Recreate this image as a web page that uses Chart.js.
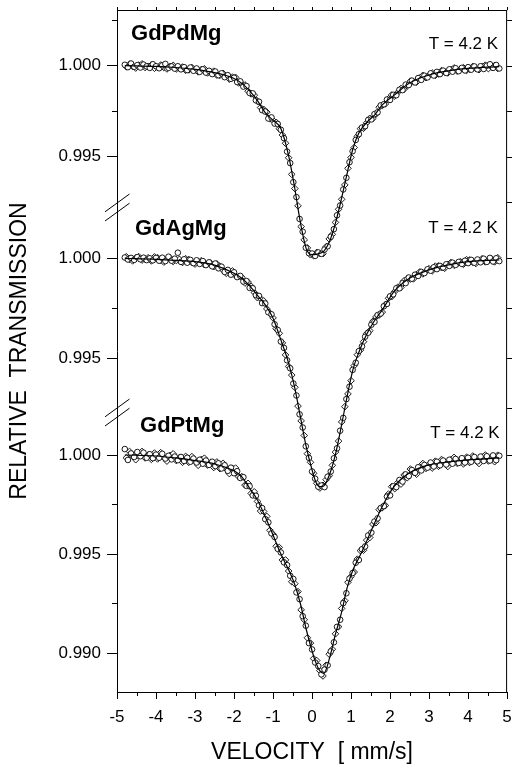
<!DOCTYPE html>
<html><head><meta charset="utf-8">
<script src="https://cdn.jsdelivr.net/npm/chart.js@4.4.1/dist/chart.umd.min.js"></script>
<style>html,body{margin:0;padding:0;background:#fff;}canvas{display:block;}</style>
</head><body>
<canvas id="c" width="512" height="767"></canvas>
<script>
// ---------- data ----------
// velocity channels of the two folded spectrum halves (circles / diamonds)
const velocity = [
-4.80,-4.72,-4.64,-4.56,-4.48,-4.40,-4.32,-4.24,-4.16,-4.08,
-4.00,-3.92,-3.84,-3.76,-3.68,-3.60,-3.52,-3.44,-3.36,-3.28,
-3.20,-3.12,-3.04,-2.96,-2.88,-2.80,-2.72,-2.64,-2.56,-2.48,
-2.40,-2.32,-2.24,-2.16,-2.08,-2.00,-1.92,-1.84,-1.76,-1.68,
-1.60,-1.52,-1.44,-1.36,-1.28,-1.20,-1.12,-1.04,-0.96,-0.88,
-0.80,-0.72,-0.64,-0.56,-0.48,-0.40,-0.32,-0.24,-0.16,-0.08,
0.00,0.08,0.16,0.24,0.32,0.40,0.48,0.56,0.64,0.72,
0.80,0.88,0.96,1.04,1.12,1.20,1.28,1.36,1.44,1.52,
1.60,1.68,1.76,1.84,1.92,2.00,2.08,2.16,2.24,2.32,
2.40,2.48,2.56,2.64,2.72,2.80,2.88,2.96,3.04,3.12,
3.20,3.28,3.36,3.44,3.52,3.60,3.68,3.76,3.84,3.92,
4.00,4.08,4.16,4.24,4.32,4.40,4.48,4.56,4.64,4.72,
4.80];
const velocity2 = [
-4.76,-4.68,-4.60,-4.52,-4.44,-4.36,-4.28,-4.20,-4.12,-4.04,
-3.96,-3.88,-3.80,-3.72,-3.64,-3.56,-3.48,-3.40,-3.32,-3.24,
-3.16,-3.08,-3.00,-2.92,-2.84,-2.76,-2.68,-2.60,-2.52,-2.44,
-2.36,-2.28,-2.20,-2.12,-2.04,-1.96,-1.88,-1.80,-1.72,-1.64,
-1.56,-1.48,-1.40,-1.32,-1.24,-1.16,-1.08,-1.00,-0.92,-0.84,
-0.76,-0.68,-0.60,-0.52,-0.44,-0.36,-0.28,-0.20,-0.12,-0.04,
0.04,0.12,0.20,0.28,0.36,0.44,0.52,0.60,0.68,0.76,
0.84,0.92,1.00,1.08,1.16,1.24,1.32,1.40,1.48,1.56,
1.64,1.72,1.80,1.88,1.96,2.04,2.12,2.20,2.28,2.36,
2.44,2.52,2.60,2.68,2.76,2.84,2.92,3.00,3.08,3.16,
3.24,3.32,3.40,3.48,3.56,3.64,3.72,3.80,3.88,3.96,
4.04,4.12,4.20,4.28,4.36,4.44,4.52,4.60,4.68,4.76];

const gdPdMg = [
1.00005,0.99992,1.00012,0.99994,1.00003,0.99990,1.00006,0.99996,0.99988,1.00008,
0.99997,0.99986,1.00002,1.00010,0.99988,0.99996,0.99984,0.99997,0.99980,0.99992,
0.99976,0.99990,0.99972,0.99985,0.99966,0.99980,0.99962,0.99972,0.99954,0.99968,
0.99948,0.99958,0.99937,0.99948,0.99928,0.99934,0.99910,0.99914,0.99885,0.99888,
0.99850,0.99848,0.99810,0.99802,0.99756,0.99748,0.99710,0.99716,0.99682,0.99680,
0.99648,0.99602,0.99528,0.99465,0.99360,0.99278,0.99158,0.99088,0.99000,0.98970,
0.98968,0.98955,0.98974,0.98966,0.98990,0.99008,0.99060,0.99102,0.99178,0.99232,
0.99320,0.99384,0.99470,0.99530,0.99592,0.99624,0.99660,0.99668,0.99702,0.99705,
0.99734,0.99744,0.99782,0.99788,0.99814,0.99812,0.99840,0.99838,0.99868,0.99866,
0.99896,0.99894,0.99918,0.99908,0.99932,0.99922,0.99945,0.99936,0.99958,0.99946,
0.99966,0.99954,0.99973,0.99960,0.99980,0.99967,0.99986,0.99970,0.99988,0.99974,
0.99992,0.99978,0.99996,0.99980,0.99997,0.99982,1.00000,1.00008,0.99988,1.00004,
0.99985];
const gdPdMg2 = [
0.99994,1.00008,0.99996,0.99987,1.00003,1.00010,0.99990,0.99997,1.00004,0.99986,
0.99990,1.00004,0.99990,0.99982,0.99996,1.00002,0.99982,0.99988,0.99993,0.99975,
0.99977,0.99990,0.99977,0.99966,0.99979,0.99983,0.99960,0.99965,0.99970,0.99948,
0.99947,0.99958,0.99940,0.99926,0.99937,0.99936,0.99905,0.99901,0.99894,0.99860,
0.99845,0.99838,0.99804,0.99770,0.99760,0.99745,0.99708,0.99700,0.99689,0.99654,
0.99619,0.99574,0.99494,0.99403,0.99325,0.99230,0.99116,0.99043,0.98999,0.98961,
0.98956,0.98974,0.98967,0.98967,0.99005,0.99048,0.99073,0.99139,0.99211,0.99266,
0.99345,0.99436,0.99496,0.99550,0.99612,0.99654,0.99656,0.99686,0.99711,0.99710,
0.99734,0.99772,0.99781,0.99790,0.99818,0.99839,0.99833,0.99854,0.99875,0.99871,
0.99889,0.99915,0.99911,0.99910,0.99933,0.99947,0.99934,0.99948,0.99960,0.99947,
0.99954,0.99973,0.99965,0.99960,0.99979,0.99988,0.99970,0.99980,0.99989,0.99974,
0.99980,0.99996,0.99985,0.99978,0.99995,1.00003,0.99984,0.99993,1.00001,0.99985];

const gdAgMg = [
1.00004,0.99994,1.00002,0.99992,1.00006,0.99995,1.00003,0.99991,1.00000,0.99990,
1.00002,0.99988,1.00003,0.99986,1.00008,0.99988,0.99998,1.00028,0.99982,0.99995,
0.99978,0.99992,0.99976,0.99990,0.99972,0.99986,0.99966,0.99980,0.99960,0.99974,
0.99950,0.99958,0.99932,0.99942,0.99918,0.99930,0.99906,0.99912,0.99884,0.99886,
0.99852,0.99850,0.99816,0.99812,0.99776,0.99774,0.99730,0.99720,0.99670,0.99642,
0.99584,0.99552,0.99490,0.99450,0.99374,0.99314,0.99220,0.99154,0.99060,0.99002,
0.98934,0.98898,0.98858,0.98864,0.98856,0.98908,0.98934,0.99000,0.99050,0.99138,
0.99202,0.99296,0.99358,0.99442,0.99478,0.99536,0.99560,0.99608,0.99628,0.99668,
0.99682,0.99716,0.99724,0.99760,0.99772,0.99810,0.99820,0.99850,0.99850,0.99876,
0.99876,0.99904,0.99898,0.99918,0.99912,0.99932,0.99926,0.99945,0.99938,0.99955,
0.99946,0.99962,0.99954,0.99970,0.99962,0.99978,0.99967,0.99982,0.99972,0.99988,
0.99976,0.99992,0.99978,0.99994,0.99980,0.99998,0.99982,1.00002,0.99984,1.00000,
0.99986];
const gdAgMg2 = [
1.00008,0.99995,0.99987,1.00002,1.00008,0.99991,0.99996,1.00003,0.99987,1.00007,
1.00003,0.99989,0.99981,0.99996,1.00002,0.99984,0.99989,0.99995,0.99979,0.99998,
0.99994,0.99980,0.99971,0.99984,0.99988,0.99968,0.99972,0.99976,0.99958,0.99972,
0.99961,0.99940,0.99925,0.99934,0.99937,0.99913,0.99909,0.99905,0.99876,0.99881,
0.99860,0.99829,0.99803,0.99799,0.99787,0.99747,0.99726,0.99702,0.99648,0.99625,
0.99577,0.99517,0.99459,0.99416,0.99355,0.99261,0.99187,0.99114,0.99023,0.98980,
0.98925,0.98875,0.98851,0.98865,0.98893,0.98913,0.98965,0.99031,0.99086,0.99182,
0.99258,0.99322,0.99388,0.99463,0.99518,0.99541,0.99583,0.99624,0.99638,0.99685,
0.99707,0.99716,0.99731,0.99769,0.99800,0.99808,0.99834,0.99856,0.99855,0.99888,
0.99898,0.99896,0.99897,0.99919,0.99932,0.99922,0.99935,0.99948,0.99937,0.99961,
0.99962,0.99953,0.99950,0.99969,0.99979,0.99965,0.99973,0.99983,0.99970,0.99993,
0.99992,0.99980,0.99974,0.99990,0.99998,0.99982,0.99989,0.99997,0.99982,1.00003];

const gdPtMg = [
1.00030,0.99975,1.00008,0.99990,1.00015,0.99994,1.00012,0.99986,1.00004,0.99984,
1.00002,0.99986,1.00006,0.99982,0.99996,0.99978,0.99992,0.99974,0.99990,0.99970,
0.99986,0.99966,0.99982,0.99962,0.99976,0.99956,0.99972,0.99950,0.99966,0.99944,
0.99958,0.99932,0.99948,0.99920,0.99936,0.99908,0.99918,0.99884,0.99888,0.99844,
0.99842,0.99796,0.99794,0.99746,0.99732,0.99676,0.99660,0.99604,0.99586,0.99526,
0.99508,0.99458,0.99444,0.99390,0.99374,0.99306,0.99272,0.99186,0.99138,0.99050,
0.99018,0.98952,0.98934,0.98892,0.98916,0.98938,0.99008,0.99054,0.99132,0.99168,
0.99252,0.99302,0.99376,0.99404,0.99456,0.99470,0.99524,0.99538,0.99594,0.99608,
0.99664,0.99680,0.99732,0.99742,0.99790,0.99796,0.99842,0.99838,0.99874,0.99866,
0.99902,0.99894,0.99924,0.99910,0.99938,0.99922,0.99950,0.99936,0.99962,0.99942,
0.99966,0.99948,0.99972,0.99952,0.99976,0.99956,0.99980,0.99960,0.99984,0.99962,
0.99986,0.99966,0.99990,0.99968,0.99992,0.99970,0.99994,0.99972,0.99998,0.99974,
0.99996];
const gdPtMg2 = [
0.99986,1.00018,0.99995,0.99976,1.00008,1.00018,0.99985,1.00000,0.99978,1.00010,
0.99980,1.00012,0.99988,0.99969,0.99998,1.00006,0.99972,0.99987,0.99963,0.99993,
0.99963,0.99992,0.99968,0.99948,0.99977,0.99984,0.99949,0.99962,0.99937,0.99965,
0.99931,0.99958,0.99930,0.99906,0.99933,0.99934,0.99890,0.99891,0.99848,0.99857,
0.99806,0.99814,0.99766,0.99717,0.99715,0.99690,0.99620,0.99600,0.99539,0.99533,
0.99470,0.99470,0.99414,0.99360,0.99350,0.99310,0.99218,0.99168,0.99077,0.99050,
0.98972,0.98962,0.98911,0.98884,0.98938,0.98994,0.99019,0.99097,0.99133,0.99225,
0.99264,0.99357,0.99386,0.99409,0.99474,0.99517,0.99519,0.99570,0.99583,0.99651,
0.99658,0.99724,0.99734,0.99745,0.99803,0.99840,0.99830,0.99861,0.99853,0.99899,
0.99885,0.99929,0.99914,0.99903,0.99941,0.99957,0.99932,0.99953,0.99934,0.99969,
0.99943,0.99977,0.99958,0.99942,0.99976,0.99988,0.99958,0.99976,0.99955,0.99989,
0.99962,0.99995,0.99974,0.99957,0.99990,1.00000,0.99970,0.99987,0.99966,0.99999];

const fitVelocity = [-4.8,-4,-3.5,-3,-2.5,-2,-1.8,-1.6,-1.4,-1.2,-1,-0.8,-0.6,-0.45,-0.3,-0.15,0,0.1,0.2,0.3,0.45,0.6,0.75,0.9,1.05,1.2,1.4,1.6,1.8,2.1,2.5,3,3.5,4,4.8];
const gdPdMgFit = [1.00000,0.99996,0.99990,0.99980,0.99962,0.99930,0.99903,0.99862,0.99808,0.99742,0.99700,0.99655,0.99505,0.99335,0.99140,0.98995,0.98962,0.98963,0.98970,0.98980,0.99035,0.99135,0.99265,0.99409,0.99545,0.99630,0.99688,0.99728,0.99785,0.99837,0.99905,0.99949,0.99972,0.99985,0.99995];
const gdAgMgFit = [1.00000,0.99995,0.99990,0.99983,0.99966,0.99925,0.99900,0.99862,0.99815,0.99767,0.99700,0.99592,0.99475,0.99358,0.99208,0.99058,0.98942,0.98880,0.98858,0.98862,0.98920,0.99020,0.99160,0.99310,0.99445,0.99530,0.99620,0.99688,0.99742,0.99833,0.99900,0.99942,0.99967,0.99983,0.99992];
const gdPtMgFit = [1.00000,0.99995,0.99985,0.99972,0.99955,0.99920,0.99890,0.99832,0.99773,0.99688,0.99596,0.99500,0.99420,0.99350,0.99250,0.99120,0.99010,0.98950,0.98910,0.98897,0.98975,0.99095,0.99200,0.99330,0.99420,0.99480,0.99565,0.99655,0.99740,0.99840,0.99910,0.99950,0.99965,0.99975,0.99985];

const xTicks = [-5,-4,-3,-2,-1,0,1,2,3,4,5];
const xMinorTicks = [-4.5,-3.5,-2.5,-1.5,-0.5,0.5,1.5,2.5,3.5,4.5];
const pdMajorTicks = [1.000, 0.995];
const pdMinorTicks = [1.0025, 0.9975];
const agMajorTicks = [1.000, 0.995];
const agMinorTicks = [0.9975];
const ptMajorTicks = [1.000, 0.995, 0.990];
const ptMinorTicks = [0.9975, 0.9925];
const sampleNames = ['GdPdMg', 'GdAgMg', 'GdPtMg'];
const temperatureLabel = 'T = 4.2 K';

// ---------- layout ----------
const FONT = "'Liberation Sans', Arial, Helvetica, sans-serif";
const AREA_TOP = 10, AREA_BOTTOM = 692;
const panels = [
  {axis:'yPd', name:sampleNames[0], data:gdPdMg, data2:gdPdMg2, fit:gdPdMgFit, major:pdMajorTicks, minor:pdMinorTicks, rightExtra:[0.9925], onePx:65.7, pxPerUnit:18200,
   nameAt:[-4.64, 1.00141], tempAt:[4.77, 1.00092]},
  {axis:'yAg', name:sampleNames[1], data:gdAgMg, data2:gdAgMg2, fit:gdAgMgFit, major:agMajorTicks, minor:agMinorTicks, rightExtra:[0.9925], onePx:258.3, pxPerUnit:20000,
   nameAt:[-4.54, 1.00115], tempAt:[4.76, 1.00125]},
  {axis:'yPt', name:sampleNames[2], data:gdPtMg, data2:gdPtMg2, fit:gdPtMgFit, major:ptMajorTicks, minor:ptMinorTicks, rightExtra:[], onePx:455, pxPerUnit:19800,
   nameAt:[-4.41, 1.00118], tempAt:[4.81, 1.00084]}
];
panels.forEach(p => {
  p.min = 1 - (AREA_BOTTOM - p.onePx) / p.pxPerUnit;
  p.max = 1 + (p.onePx - AREA_TOP) / p.pxPerUnit;
});
const breaksPx = [207.5, 412.5];

function frameTicks() {
  const out = [];
  panels.forEach(p => p.major.forEach(t => out.push({value:(t - p.min) / (p.max - p.min), lab:t.toFixed(3)})));
  return out;
}

const scales = {
  x:{type:'linear', position:'bottom', min:-5, max:5,
     afterBuildTicks: s => { s.ticks = xTicks.map(v => ({value:v})); },
     ticks:{font:{family:FONT, size:17}, color:'#000', padding:8, autoSkip:false, maxRotation:0, callback:v => String(v)},
     grid:{drawOnChartArea:false, tickLength:7, color:'#000', tickColor:'#000', lineWidth:1},
     border:{color:'#000', width:1},
     title:{display:true, text:'VELOCITY  [ mm/s]', font:{family:FONT, size:23}, color:'#000', padding:{top:0, bottom:1}},
     afterFit: s => { s.height = 767 - AREA_BOTTOM; s.paddingLeft = 0; s.paddingRight = 0; }
  },
  y:{type:'linear', position:'left', min:0, max:1,
     afterBuildTicks: s => { s.ticks = frameTicks(); },
     ticks:{font:{family:FONT, size:17}, color:'#000', padding:6, autoSkip:false, callback:(v, i, t) => t[i].lab},
     grid:{drawOnChartArea:false, tickLength:10, color:'#000', tickColor:'#000', lineWidth:1},
     border:{color:'#000', width:1},
     title:{display:true, text:'RELATIVE  TRANSMISSION', font:{family:FONT, size:23}, color:'#000', padding:{top:6, bottom:0}},
     afterFit: s => { s.width = 117; s.paddingTop = 0; s.paddingBottom = 0; }
  }
};
panels.forEach(p => { scales[p.axis] = {type:'linear', display:false, min:p.min, max:p.max}; });

const datasets = [];
panels.forEach(p => {
  datasets.push({
    type:'line', label:p.name + ' fit', yAxisID:p.axis,
    data: fitVelocity.map((v, k) => ({x:v, y:p.fit[k]})),
    borderColor:'#000', borderWidth:1.2, pointRadius:0, fill:false,
    cubicInterpolationMode:'monotone', order:0
  });
  datasets.push({
    type:'scatter', label:p.name, yAxisID:p.axis,
    data: velocity.map((v, k) => ({x:v, y:p.data[k]})),
    pointStyle:'circle', pointRadius:2.8,
    pointBackgroundColor:'#fff', pointBorderColor:'#000', pointBorderWidth:0.9,
    showLine:false, order:1
  });
  datasets.push({
    type:'scatter', label:p.name + ' (2)', yAxisID:p.axis,
    data: velocity2.map((v, k) => ({x:v, y:p.data2[k]})),
    pointStyle:'rectRot', pointRadius:3.3,
    pointBackgroundColor:'#fff', pointBorderColor:'#000', pointBorderWidth:0.9,
    showLine:false, order:2
  });
});

const decorations = {
  id:'decorations',
  afterDraw(chart) {
    const {ctx, chartArea:a, scales:s} = chart;
    ctx.save();
    ctx.strokeStyle = '#000'; ctx.lineWidth = 1;
    ctx.beginPath();
    ctx.moveTo(a.left, a.top + 0.5); ctx.lineTo(a.right, a.top + 0.5);
    ctx.moveTo(a.right - 0.5, a.top); ctx.lineTo(a.right - 0.5, a.bottom);
    xTicks.concat(xMinorTicks).forEach(v => {
      const x = Math.round(s.x.getPixelForValue(v)) + 0.5;
      ctx.moveTo(x, a.top); ctx.lineTo(x, a.top - 3);
    });
    xMinorTicks.forEach(v => {
      const x = Math.round(s.x.getPixelForValue(v)) + 0.5;
      ctx.moveTo(x, a.bottom); ctx.lineTo(x, a.bottom + 4);
    });
    panels.forEach(p => {
      const sc = s[p.axis];
      p.minor.forEach(v => {
        const y = Math.round(sc.getPixelForValue(v)) + 0.5;
        ctx.moveTo(a.left - 5, y); ctx.lineTo(a.left, y);
      });
      p.major.concat(p.minor, p.rightExtra).forEach(v => {
        const y = Math.round(sc.getPixelForValue(v)) + 0.5;
        ctx.moveTo(a.right, y); ctx.lineTo(a.right + 5, y);
      });
    });
    ctx.stroke();
    ctx.beginPath();
    breaksPx.forEach(yc => {
      [-4.6, 4.6].forEach(d => {
        ctx.moveTo(a.left - 12, yc + d + 8.9);
        ctx.lineTo(a.left + 12.5, yc + d - 8.9);
      });
    });
    ctx.stroke();
    ctx.fillStyle = '#000';
    ctx.textBaseline = 'alphabetic';
    panels.forEach(p => {
      const sc = s[p.axis];
      ctx.font = 'bold 22px ' + FONT;
      ctx.textAlign = 'left';
      ctx.fillText(p.name, s.x.getPixelForValue(p.nameAt[0]), sc.getPixelForValue(p.nameAt[1]));
      ctx.font = '17px ' + FONT;
      ctx.textAlign = 'right';
      ctx.fillText(temperatureLabel, s.x.getPixelForValue(p.tempAt[0]), sc.getPixelForValue(p.tempAt[1]));
    });
    ctx.restore();
  }
};

new Chart(document.getElementById('c'), {
  type:'scatter',
  data:{datasets},
  options:{
    responsive:false, animation:false, devicePixelRatio:1,
    layout:{padding:{top:AREA_TOP, right:2, left:0, bottom:0}},
    plugins:{legend:{display:false}, tooltip:{enabled:false}},
    scales
  },
  plugins:[decorations]
});
</script>
</body></html>
